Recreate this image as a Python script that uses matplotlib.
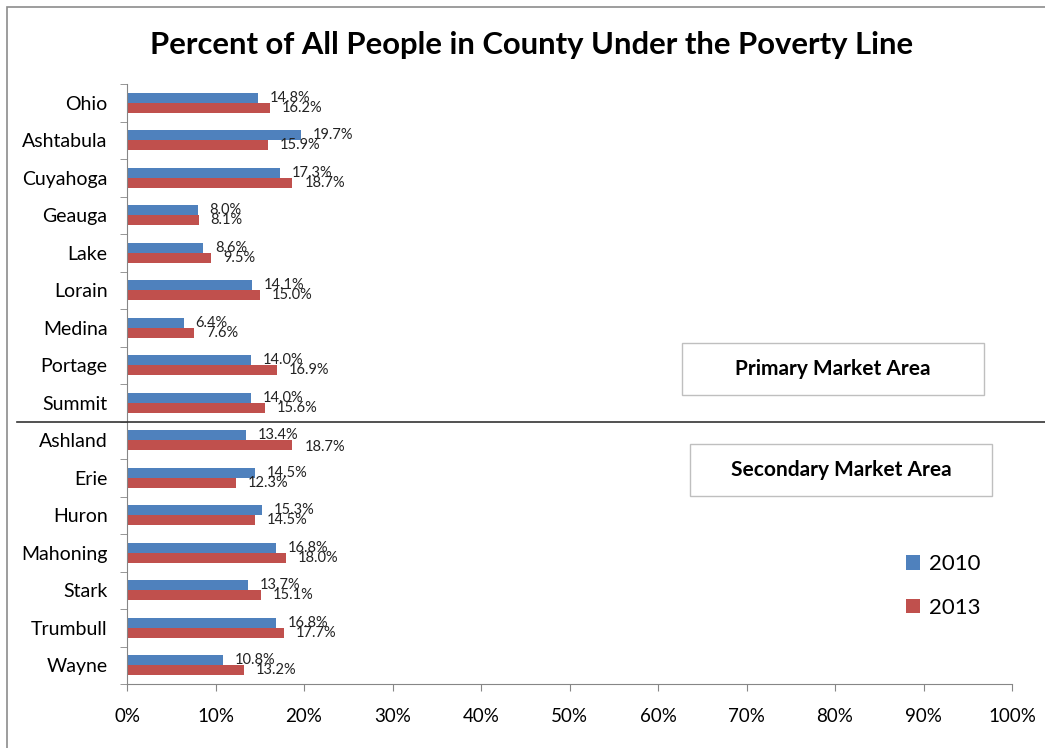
import matplotlib
matplotlib.use("Agg")
import matplotlib.pyplot as plt
import numpy as np
from matplotlib.patches import Rectangle
from matplotlib.lines import Line2D
from matplotlib.transforms import blended_transform_factory

counties = ["Ohio", "Ashtabula", "Cuyahoga", "Geauga", "Lake", "Lorain", "Medina",
            "Portage", "Summit", "Ashland", "Erie", "Huron", "Mahoning", "Stark",
            "Trumbull", "Wayne"]
pct_2010 = [14.8, 19.7, 17.3, 8.0, 8.6, 14.1, 6.4, 14.0, 14.0, 13.4, 14.5, 15.3, 16.8, 13.7, 16.8, 10.8]
pct_2013 = [16.2, 15.9, 18.7, 8.1, 9.5, 15.0, 7.6, 16.9, 15.6, 18.7, 12.3, 14.5, 18.0, 15.1, 17.7, 13.2]
xticks = [0, 10, 20, 30, 40, 50, 60, 70, 80, 90, 100]
title = "Percent of All People in County Under the Poverty Line"

BLUE = "#4F81BD"
RED = "#C0504D"
GRAY = "#868686"
FONT = "Lato"
plt.rcParams["font.family"] = [FONT, "DejaVu Sans"]

fig = plt.figure(figsize=(10.45, 7.48), dpi=100)
ax = fig.add_axes([127/1045, 1-684/748, (1012-127)/1045, (684-84)/748])

y = np.arange(len(counties))
h = 0.27
b1 = ax.barh(y - h/2, pct_2010, height=h, color=BLUE, label="2010")
b2 = ax.barh(y + h/2, pct_2013, height=h, color=RED, label="2013")

for yi, v in zip(y, pct_2010):
    ax.annotate(f"{v:.1f}%", (v, yi - h/2), xytext=(8.5, 0), textcoords="offset points",
                va="center", ha="left", fontsize=10.5, color="#222222")
for i, (yi, v) in enumerate(zip(y, pct_2013)):
    dy = -1.5 if counties[i] == "Ashland" else 0
    ax.annotate(f"{v:.1f}%", (v, yi + h/2), xytext=(8.5, dy), textcoords="offset points",
                va="center", ha="left", fontsize=10.5, color="#222222")

ax.set_xlim(0, 100)
ax.set_ylim(len(counties) - 0.5, -0.5)
ax.set_xticks(xticks)
ax.set_xticklabels([f"{t}%" for t in xticks], fontsize=13.5)
ax.set_yticks(y)
ax.set_yticklabels(counties, fontsize=14)
ax.set_yticks(np.arange(len(counties) + 1) - 0.5, minor=True)
ax.tick_params(axis="y", which="major", length=0, pad=14)
ax.tick_params(axis="y", which="minor", length=5, color=GRAY, direction="out")
ax.tick_params(axis="x", length=5, color=GRAY, direction="out", pad=12)
for s in ["top", "right"]:
    ax.spines[s].set_visible(False)
for s in ["left", "bottom"]:
    ax.spines[s].set_color(GRAY)

fig.text(532/1045, 1-45/748, title, ha="center", va="center", fontsize=22.3, fontweight="bold")

# separator line between primary and secondary areas
tr = blended_transform_factory(fig.transFigure, ax.transData)
fig.add_artist(Line2D([17/1045, 1.0], [8.5, 8.5], transform=tr, color="#333333", lw=1.2))

# area boxes
for (x0, y0, x1, y1, txt) in [(682, 343, 984, 395, "Primary Market Area"),
                              (690, 444, 992, 496, "Secondary Market Area")]:
    fig.add_artist(Rectangle((x0/1045, 1-y1/748), (x1-x0)/1045, (y1-y0)/748,
                             transform=fig.transFigure, fill=False, ec="#BFBFBF", lw=1))
    fig.text((x0+x1)/2/1045, 1-(y0+y1)/2/748, txt, ha="center", va="center",
             fontsize=15, fontweight="bold")

# legend
leg = fig.legend(handles=[b1, b2], labels=["2010", "2013"], loc="center left",
                 bbox_to_anchor=(886/1045, 1-586/748), frameon=False, fontsize=16,
                 handlelength=0.62, handleheight=0.62, labelspacing=1.05, handletextpad=0.4)

# outer border
fig.add_artist(Rectangle((7/1045, -0.1), 1.2, 1.1 - 7/748, transform=fig.transFigure,
                         fill=False, ec="#8C8C8C", lw=1.2))

fig.savefig("out.png", dpi=100)
